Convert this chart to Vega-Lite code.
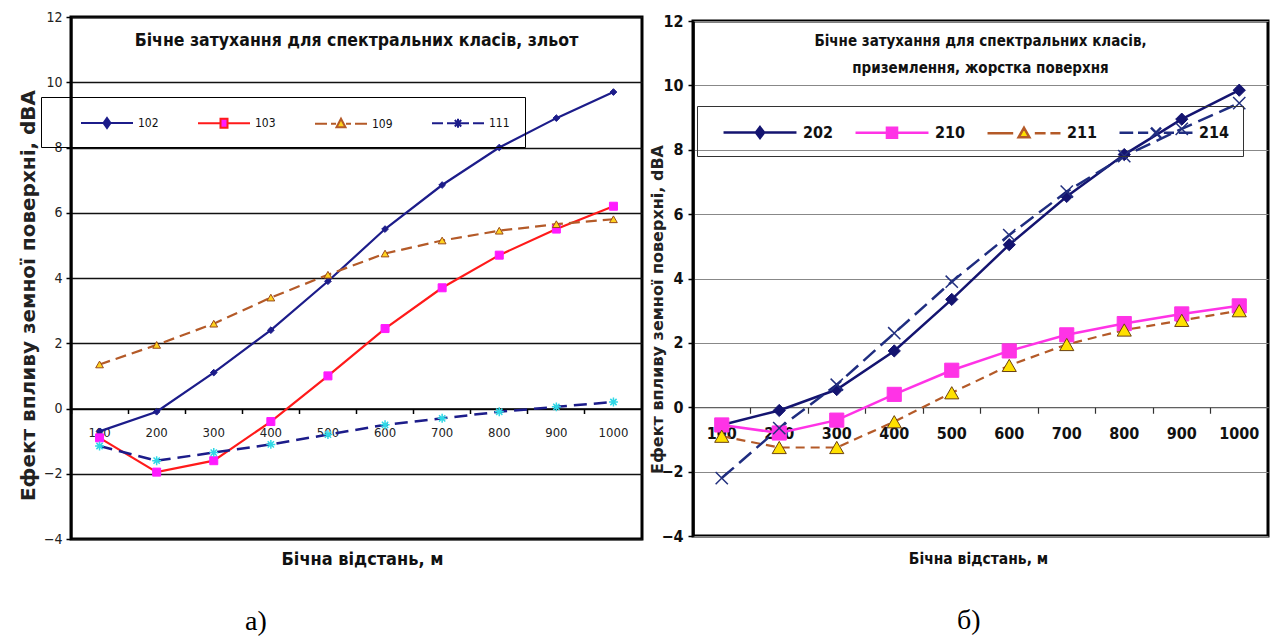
{
  "$schema": "https://vega.github.io/schema/vega-lite/v6.json",
  "background": "white",
  "padding": {"left": 16, "top": 8, "right": 0, "bottom": 0},
  "spacing": 3,
  "resolve": {"scale": {"shape": "independent", "fill": "independent", "stroke": "independent"}},
  "datasets": {
    "left": [
      {"series": "102", "x": 100, "y": -0.7}, {"series": "102", "x": 200, "y": -0.1}, {"series": "102", "x": 300, "y": 1.1}, {"series": "102", "x": 400, "y": 2.4}, {"series": "102", "x": 500, "y": 3.9},
      {"series": "102", "x": 600, "y": 5.5}, {"series": "102", "x": 700, "y": 6.85}, {"series": "102", "x": 800, "y": 8.0}, {"series": "102", "x": 900, "y": 8.9}, {"series": "102", "x": 1000, "y": 9.7},
      {"series": "103", "x": 100, "y": -0.9}, {"series": "103", "x": 200, "y": -1.95}, {"series": "103", "x": 300, "y": -1.6}, {"series": "103", "x": 400, "y": -0.4}, {"series": "103", "x": 500, "y": 1.0},
      {"series": "103", "x": 600, "y": 2.45}, {"series": "103", "x": 700, "y": 3.7}, {"series": "103", "x": 800, "y": 4.7}, {"series": "103", "x": 900, "y": 5.5}, {"series": "103", "x": 1000, "y": 6.2},
      {"series": "109", "x": 100, "y": 1.35}, {"series": "109", "x": 200, "y": 1.95}, {"series": "109", "x": 300, "y": 2.6}, {"series": "109", "x": 400, "y": 3.4}, {"series": "109", "x": 500, "y": 4.1},
      {"series": "109", "x": 600, "y": 4.75}, {"series": "109", "x": 700, "y": 5.15}, {"series": "109", "x": 800, "y": 5.45}, {"series": "109", "x": 900, "y": 5.65}, {"series": "109", "x": 1000, "y": 5.8},
      {"series": "111", "x": 100, "y": -1.15}, {"series": "111", "x": 200, "y": -1.6}, {"series": "111", "x": 300, "y": -1.35}, {"series": "111", "x": 400, "y": -1.1}, {"series": "111", "x": 500, "y": -0.8},
      {"series": "111", "x": 600, "y": -0.5}, {"series": "111", "x": 700, "y": -0.3}, {"series": "111", "x": 800, "y": -0.1}, {"series": "111", "x": 900, "y": 0.05}, {"series": "111", "x": 1000, "y": 0.2}
    ],
    "right": [
      {"series": "202", "x": 100, "y": -0.55}, {"series": "202", "x": 200, "y": -0.1}, {"series": "202", "x": 300, "y": 0.55}, {"series": "202", "x": 400, "y": 1.75}, {"series": "202", "x": 500, "y": 3.35},
      {"series": "202", "x": 600, "y": 5.05}, {"series": "202", "x": 700, "y": 6.55}, {"series": "202", "x": 800, "y": 7.85}, {"series": "202", "x": 900, "y": 8.95}, {"series": "202", "x": 1000, "y": 9.85},
      {"series": "210", "x": 100, "y": -0.55}, {"series": "210", "x": 200, "y": -0.8}, {"series": "210", "x": 300, "y": -0.4}, {"series": "210", "x": 400, "y": 0.4}, {"series": "210", "x": 500, "y": 1.15},
      {"series": "210", "x": 600, "y": 1.75}, {"series": "210", "x": 700, "y": 2.25}, {"series": "210", "x": 800, "y": 2.6}, {"series": "210", "x": 900, "y": 2.9}, {"series": "210", "x": 1000, "y": 3.15},
      {"series": "211", "x": 100, "y": -0.9}, {"series": "211", "x": 200, "y": -1.25}, {"series": "211", "x": 300, "y": -1.25}, {"series": "211", "x": 400, "y": -0.45}, {"series": "211", "x": 500, "y": 0.45},
      {"series": "211", "x": 600, "y": 1.3}, {"series": "211", "x": 700, "y": 1.95}, {"series": "211", "x": 800, "y": 2.4}, {"series": "211", "x": 900, "y": 2.7}, {"series": "211", "x": 1000, "y": 3.0},
      {"series": "214", "x": 100, "y": -2.2}, {"series": "214", "x": 200, "y": -0.65}, {"series": "214", "x": 300, "y": 0.7}, {"series": "214", "x": 400, "y": 2.3}, {"series": "214", "x": 500, "y": 3.9},
      {"series": "214", "x": 600, "y": 5.35}, {"series": "214", "x": 700, "y": 6.7}, {"series": "214", "x": 800, "y": 7.8}, {"series": "214", "x": 900, "y": 8.65}, {"series": "214", "x": 1000, "y": 9.45}
    ]
  },
  "hconcat": [
    {
      "title": {"text": "а)", "orient": "bottom", "anchor": "start", "frame": "group", "font": "Liberation Serif", "fontSize": 28, "fontWeight": "normal", "color": "black", "offset": 38, "dx": 174},
      "resolve": {"scale": {"shape": "independent", "fill": "independent", "stroke": "independent"}},
      "vconcat": [
        {
          "width": 571,
          "height": 522,
          "data": {"name": "left"},
          "title": {"text": "Бічне затухання для спектральних класів, зльот", "offset": -39, "anchor": "middle", "font": "DejaVu Sans Condensed", "fontSize": 17.5, "fontWeight": "bold", "color": "#111"},
          "view": {"stroke": "black", "strokeWidth": 3},
          "resolve": {"axis": {"x": "independent"}},
          "layer": [
            {
              "transform": [{"filter": "datum.series === '102'"}],
              "mark": {"type": "line", "strokeWidth": 2.2, "color": "#1c1c8a"},
              "encoding": {
                "x": {"field": "x", "type": "ordinal", "bandPosition": 0.5, "scale": {"type": "band", "paddingInner": 0, "paddingOuter": 0},
                  "axis": {"orient": "bottom", "offset": -130.5, "ticks": false, "domain": true, "domainColor": "black", "domainWidth": 1.5, "grid": false, "labelAngle": 0, "labelFont": "DejaVu Sans Condensed", "labelFontSize": 13, "labelColor": "#222", "labelPadding": 18,
                    "title": "Бічна відстань, м", "titleFont": "DejaVu Sans Condensed", "titleFontSize": 18, "titleFontWeight": "bold", "titleColor": "#111", "titleX": 291, "titleY": 151, "titleAlign": "center", "titleBaseline": "middle"}},
                "y": {"field": "y", "type": "quantitative", "scale": {"domain": [-4, 12], "nice": false, "zero": false},
                  "axis": {"values": [-4, -2, 0, 2, 4, 6, 8, 10, 12], "title": "Ефект впливу земної поверхні, dBA", "titleFont": "DejaVu Sans", "titleFontSize": 20, "titleFontWeight": "bold", "titleColor": "#222", "titleAngle": 270, "titleX": -43, "titleY": 278, "titleAlign": "center", "titleBaseline": "middle",
                    "labelFont": "DejaVu Sans Condensed", "labelFontSize": 14, "labelColor": "#222", "labelPadding": 4, "tickSize": 5, "tickColor": "black", "tickWidth": 1.5, "domainColor": "black", "domainWidth": 2, "grid": true, "gridColor": "#111", "gridWidth": 1.5}}
              }
            },
            {
              "transform": [{"filter": "datum.series === '103'"}],
              "mark": {"type": "line", "strokeWidth": 2.2, "color": "#ff1a1a"},
              "encoding": {"x": {"field": "x", "type": "ordinal", "bandPosition": 0.5, "scale": {"type": "band", "paddingInner": 0, "paddingOuter": 0}, "axis": null}, "y": {"field": "y", "type": "quantitative"}}
            },
            {
              "transform": [{"filter": "datum.series === '109'"}],
              "mark": {"type": "line", "strokeWidth": 2.2, "color": "#b45a28", "strokeDash": [11, 6]},
              "encoding": {"x": {"field": "x", "type": "ordinal", "bandPosition": 0.5, "scale": {"type": "band", "paddingInner": 0, "paddingOuter": 0}, "axis": null}, "y": {"field": "y", "type": "quantitative"}}
            },
            {
              "transform": [{"filter": "datum.series === '111'"}],
              "mark": {"type": "line", "strokeWidth": 2.5, "color": "#1c1c8a", "strokeDash": [13, 7]},
              "encoding": {"x": {"field": "x", "type": "ordinal", "bandPosition": 0.5, "scale": {"type": "band", "paddingInner": 0, "paddingOuter": 0}, "axis": null}, "y": {"field": "y", "type": "quantitative"}}
            },
            {
              "transform": [{"filter": "datum.series === '102'"}],
              "mark": {"type": "point", "shape": "diamond", "filled": true, "size": 45, "fill": "#1c1c8a", "stroke": "#1c1c8a", "strokeWidth": 1, "opacity": 1},
              "encoding": {"x": {"field": "x", "type": "ordinal", "bandPosition": 0.5, "scale": {"type": "band", "paddingInner": 0, "paddingOuter": 0}, "axis": null}, "y": {"field": "y", "type": "quantitative"}}
            },
            {
              "transform": [{"filter": "datum.series === '103'"}],
              "mark": {"type": "point", "shape": "square", "filled": true, "size": 64, "fill": "#ff1aff", "stroke": "#ff1aff", "strokeWidth": 1, "opacity": 1},
              "encoding": {"x": {"field": "x", "type": "ordinal", "bandPosition": 0.5, "scale": {"type": "band", "paddingInner": 0, "paddingOuter": 0}, "axis": null}, "y": {"field": "y", "type": "quantitative"}}
            },
            {
              "transform": [{"filter": "datum.series === '109'"}],
              "mark": {"type": "point", "shape": "triangle-up", "filled": true, "size": 60, "fill": "#ffd21f", "stroke": "#9a4a1a", "strokeWidth": 1, "opacity": 1},
              "encoding": {"x": {"field": "x", "type": "ordinal", "bandPosition": 0.5, "scale": {"type": "band", "paddingInner": 0, "paddingOuter": 0}, "axis": null}, "y": {"field": "y", "type": "quantitative"}}
            },
            {
              "transform": [{"filter": "datum.series === '111'"}],
              "mark": {"type": "point", "shape": "M-1,0H1M0,-1V1M-0.7,-0.7L0.7,0.7M-0.7,0.7L0.7,-0.7", "filled": false, "size": 80, "stroke": "#2fd8e6", "strokeWidth": 1.5, "opacity": 1},
              "encoding": {"x": {"field": "x", "type": "ordinal", "bandPosition": 0.5, "scale": {"type": "band", "paddingInner": 0, "paddingOuter": 0}, "axis": null}, "y": {"field": "y", "type": "quantitative"}}
            },
            {
              "transform": [{"filter": "false"}],
              "mark": {"type": "point", "filled": true, "opacity": 1, "strokeWidth": 2},
              "encoding": {
                "x": {"field": "x", "type": "ordinal", "scale": {"type": "band", "paddingInner": 0, "paddingOuter": 0},
                  "axis": {"orient": "bottom", "offset": -130.5, "labels": false, "ticks": true, "tickSize": 5, "tickColor": "black", "tickWidth": 1.5, "domain": false, "grid": false, "title": null, "bandPosition": 0}},
                "shape": {"field": "series", "type": "nominal", "scale": {"domain": ["102", "103", "109", "111"], "range": [
                  "M-2.6,0H2.6M0,-0.5L0.35,0L0,0.5L-0.35,0Z",
                  "M-2.6,0H-0.35M0.35,0H2.6M-0.35,-0.45H0.35V0.45H-0.35Z",
                  "M-2.6,0H-1.4M-1.0,0H-0.5M0.5,0H1.0M1.4,0H2.6M0,-0.5L0.45,0.35H-0.45Z",
                  "M-2.6,0H-1.5M-1.1,0H-0.45M0.45,0H1.1M1.5,0H2.6M-0.45,0H0.45M0,-0.45V0.45M-0.32,-0.32L0.32,0.32M-0.32,0.32L0.32,-0.32"]},
                  "legend": {"orient": "none", "legendX": -30, "legendY": 80, "direction": "horizontal", "columns": 4, "title": null, "padding": 15, "columnPadding": 14, "symbolSize": 400, "symbolStrokeWidth": 2, "symbolOffset": 40, "labelOffset": 20, "labelFont": "DejaVu Sans Condensed", "labelFontSize": 12, "labelColor": "#111", "strokeColor": "black"}},
                "fill": {"field": "series", "type": "nominal", "scale": {"domain": ["102", "103", "109", "111"], "range": ["#1c1c8a", "#ff1aff", "#ffd21f", "#2fd8e6"]},
                  "legend": {"orient": "none", "legendX": -30, "legendY": 80, "direction": "horizontal", "columns": 4, "title": null, "padding": 15, "columnPadding": 14, "symbolSize": 400, "symbolStrokeWidth": 2, "symbolOffset": 40, "labelOffset": 20, "labelFont": "DejaVu Sans Condensed", "labelFontSize": 12, "labelColor": "#111", "strokeColor": "black"}},
                "stroke": {"field": "series", "type": "nominal", "scale": {"domain": ["102", "103", "109", "111"], "range": ["#1c1c8a", "#ff1a1a", "#b45a28", "#1c1c8a"]},
                  "legend": {"orient": "none", "legendX": -30, "legendY": 80, "direction": "horizontal", "columns": 4, "title": null, "padding": 15, "columnPadding": 14, "symbolSize": 400, "symbolStrokeWidth": 2, "symbolOffset": 40, "labelOffset": 20, "labelFont": "DejaVu Sans Condensed", "labelFontSize": 12, "labelColor": "#111", "strokeColor": "black"}}
              }
            }
          ]
        }
      ]
    },
    {
      "title": {"text": "б)", "orient": "bottom", "anchor": "start", "frame": "group", "font": "Liberation Serif", "fontSize": 28, "fontWeight": "normal", "color": "black", "offset": 38, "dx": 264},
      "resolve": {"scale": {"shape": "independent", "fill": "independent", "stroke": "independent"}},
      "spacing": -7,
      "vconcat": [
        {
          "width": 575,
          "height": 1,
          "data": {"values": []},
          "mark": {"type": "point"},
          "view": {"stroke": null}
        },
        {
          "width": 575,
          "height": 515,
          "data": {"name": "right"},
          "title": {"text": ["Бічне затухання для спектральних класів,", "приземлення, жорстка поверхня"], "lineHeight": 27, "offset": -63, "anchor": "middle", "font": "DejaVu Sans Condensed", "fontSize": 15, "fontWeight": "bold", "color": "#111"},
          "view": {"stroke": "black", "strokeWidth": 3},
          "resolve": {"axis": {"x": "independent"}},
          "layer": [
            {
              "transform": [{"filter": "datum.series === '202'"}],
              "mark": {"type": "line", "strokeWidth": 2.5, "color": "#141470"},
              "encoding": {
                "x": {"field": "x", "type": "ordinal", "bandPosition": 0.5, "scale": {"type": "band", "paddingInner": 0, "paddingOuter": 0},
                  "axis": {"orient": "bottom", "offset": -128.75, "ticks": false, "domain": true, "domainColor": "#555", "domainWidth": 1.2, "grid": false, "labelAngle": 0, "labelFont": "DejaVu Sans Condensed", "labelFontSize": 16, "labelFontWeight": "bold", "labelColor": "#111", "labelPadding": 18,
                    "title": "Бічна відстань, м", "titleFont": "DejaVu Sans Condensed", "titleFontSize": 15.5, "titleFontWeight": "bold", "titleColor": "#111", "titleX": 285, "titleY": 151.5, "titleAlign": "center", "titleBaseline": "middle"}},
                "y": {"field": "y", "type": "quantitative", "scale": {"domain": [-4, 12], "nice": false, "zero": false},
                  "axis": {"values": [-4, -2, 0, 2, 4, 6, 8, 10, 12], "title": "Ефект впливу земної поверхні, dBA", "titleFont": "DejaVu Sans", "titleFontSize": 16, "titleFontWeight": "bold", "titleColor": "#222", "titleAngle": 270, "titleX": -36, "titleY": 288, "titleAlign": "center", "titleBaseline": "middle",
                    "labelFont": "DejaVu Sans Condensed", "labelFontSize": 16, "labelFontWeight": "bold", "labelColor": "#111", "labelPadding": 5, "tickSize": 5, "tickColor": "black", "tickWidth": 1.5, "domainColor": "black", "domainWidth": 2.5, "grid": true, "gridColor": "#888", "gridWidth": 1}}
              }
            },
            {
              "transform": [{"filter": "datum.series === '210'"}],
              "mark": {"type": "line", "strokeWidth": 2.5, "color": "#ff33e6"},
              "encoding": {"x": {"field": "x", "type": "ordinal", "bandPosition": 0.5, "scale": {"type": "band", "paddingInner": 0, "paddingOuter": 0}, "axis": null}, "y": {"field": "y", "type": "quantitative"}}
            },
            {
              "transform": [{"filter": "datum.series === '211'"}],
              "mark": {"type": "line", "strokeWidth": 2.2, "color": "#b45a28", "strokeDash": [9, 6]},
              "encoding": {"x": {"field": "x", "type": "ordinal", "bandPosition": 0.5, "scale": {"type": "band", "paddingInner": 0, "paddingOuter": 0}, "axis": null}, "y": {"field": "y", "type": "quantitative"}}
            },
            {
              "transform": [{"filter": "datum.series === '214'"}],
              "mark": {"type": "line", "strokeWidth": 2.5, "color": "#1f2d80", "strokeDash": [16, 7]},
              "encoding": {"x": {"field": "x", "type": "ordinal", "bandPosition": 0.5, "scale": {"type": "band", "paddingInner": 0, "paddingOuter": 0}, "axis": null}, "y": {"field": "y", "type": "quantitative"}}
            },
            {
              "transform": [{"filter": "datum.series === '202'"}],
              "mark": {"type": "point", "shape": "diamond", "filled": true, "size": 150, "fill": "#141470", "stroke": "#141470", "strokeWidth": 1, "opacity": 1},
              "encoding": {"x": {"field": "x", "type": "ordinal", "bandPosition": 0.5, "scale": {"type": "band", "paddingInner": 0, "paddingOuter": 0}, "axis": null}, "y": {"field": "y", "type": "quantitative"}}
            },
            {
              "transform": [{"filter": "datum.series === '210'"}],
              "mark": {"type": "point", "shape": "square", "filled": true, "size": 200, "fill": "#ff33e6", "stroke": "#ff33e6", "strokeWidth": 1, "opacity": 1},
              "encoding": {"x": {"field": "x", "type": "ordinal", "bandPosition": 0.5, "scale": {"type": "band", "paddingInner": 0, "paddingOuter": 0}, "axis": null}, "y": {"field": "y", "type": "quantitative"}}
            },
            {
              "transform": [{"filter": "datum.series === '211'"}],
              "mark": {"type": "point", "shape": "triangle-up", "filled": true, "size": 200, "fill": "#ffe000", "stroke": "#6b4010", "strokeWidth": 1, "opacity": 1},
              "encoding": {"x": {"field": "x", "type": "ordinal", "bandPosition": 0.5, "scale": {"type": "band", "paddingInner": 0, "paddingOuter": 0}, "axis": null}, "y": {"field": "y", "type": "quantitative"}}
            },
            {
              "transform": [{"filter": "datum.series === '214'"}],
              "mark": {"type": "point", "shape": "M-1,-1L1,1M-1,1L1,-1", "filled": false, "size": 150, "stroke": "#22307f", "strokeWidth": 1.5, "opacity": 1},
              "encoding": {"x": {"field": "x", "type": "ordinal", "bandPosition": 0.5, "scale": {"type": "band", "paddingInner": 0, "paddingOuter": 0}, "axis": null}, "y": {"field": "y", "type": "quantitative"}}
            },
            {
              "transform": [{"filter": "false"}],
              "mark": {"type": "point", "filled": true, "opacity": 1, "strokeWidth": 2.5},
              "encoding": {
                "x": {"field": "x", "type": "ordinal", "scale": {"type": "band", "paddingInner": 0, "paddingOuter": 0},
                  "axis": {"orient": "bottom", "offset": -128.75, "labels": false, "ticks": true, "tickSize": 6, "tickColor": "#333", "tickWidth": 1.2, "domain": false, "grid": false, "title": null, "bandPosition": 0}},
                "shape": {"field": "series", "type": "nominal", "scale": {"domain": ["202", "210", "211", "214"], "range": [
                  "M-3.04,0H3.04M0,-0.45L0.34,0L0,0.45L-0.34,0Z",
                  "M-3.04,0H-0.42M0.42,0H3.04M-0.42,-0.42H0.42V0.42H-0.42Z",
                  "M-3.04,0H-0.9M0.9,0H1.8M2.2,0H3.04M0,-0.45L0.45,0.35H-0.45Z",
                  "M-3.04,0H-1.9M-1.5,0H-0.65M0.65,0H1.5M1.9,0H3.04M-0.42,-0.42L0.42,0.42M-0.42,0.42L0.42,-0.42"]},
                  "legend": {"orient": "none", "legendX": 4, "legendY": 85, "direction": "horizontal", "columns": 4, "title": null, "padding": 13, "columnPadding": 8, "symbolSize": 576, "symbolStrokeWidth": 2.5, "symbolOffset": 36.5, "labelOffset": 29.5, "labelFont": "DejaVu Sans Condensed", "labelFontSize": 16, "labelFontWeight": "bold", "labelColor": "#111", "strokeColor": "#333"}},
                "fill": {"field": "series", "type": "nominal", "scale": {"domain": ["202", "210", "211", "214"], "range": ["#141470", "#ff33e6", "#ffe000", "#22307f"]},
                  "legend": {"orient": "none", "legendX": 4, "legendY": 85, "direction": "horizontal", "columns": 4, "title": null, "padding": 13, "columnPadding": 8, "symbolSize": 576, "symbolStrokeWidth": 2.5, "symbolOffset": 36.5, "labelOffset": 29.5, "labelFont": "DejaVu Sans Condensed", "labelFontSize": 16, "labelFontWeight": "bold", "labelColor": "#111", "strokeColor": "#333"}},
                "stroke": {"field": "series", "type": "nominal", "scale": {"domain": ["202", "210", "211", "214"], "range": ["#141470", "#ff33e6", "#b45a28", "#1f2d80"]},
                  "legend": {"orient": "none", "legendX": 4, "legendY": 85, "direction": "horizontal", "columns": 4, "title": null, "padding": 13, "columnPadding": 8, "symbolSize": 576, "symbolStrokeWidth": 2.5, "symbolOffset": 36.5, "labelOffset": 29.5, "labelFont": "DejaVu Sans Condensed", "labelFontSize": 16, "labelFontWeight": "bold", "labelColor": "#111", "strokeColor": "#333"}}
              }
            }
          ]
        }
      ]
    }
  ]
}
